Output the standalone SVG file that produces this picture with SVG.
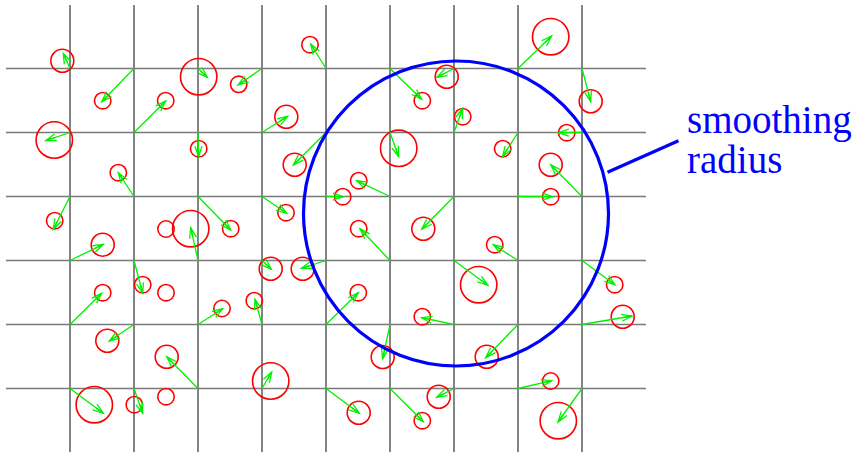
<svg xmlns="http://www.w3.org/2000/svg" width="857" height="456" viewBox="0 0 857 456">
<style>
.h{stroke:#7a7a7a;stroke-width:1.4;fill:none}
.v{stroke:#222;stroke-width:1.1;fill:none}
.c{stroke:#ff0000;stroke-width:1.6;fill:none}
.a line{stroke:#00f000;stroke-width:1.3;marker-end:url(#ah)}
.b{stroke:#0000ff;stroke-width:3.2;fill:none}
.t{font-family:"Liberation Serif","Times New Roman",serif;font-size:39px;fill:#0000ff}
</style>
<defs>
<marker id="ah" markerUnits="userSpaceOnUse" markerWidth="14" markerHeight="10" refX="11" refY="4" orient="auto" overflow="visible">
<path d="M0.5,0.5 L11,4 L0.5,7.5 M11,4 L2,4" fill="none" stroke="#00f000" stroke-width="1.3"/>
</marker>
</defs>
<rect width="857" height="456" fill="#fff"/>
<g id="grid">
<path class="v" d="M70,5V452M134,5V452M198,5V452M262,5V452M326,5V452M390,5V452M454,5V452M518,5V452M582,5V452"/>
<path class="h" d="M6,68.5H646M6,132.5H646M6,196.5H646M6,260.5H646M6,324.5H646M6,388.5H646"/>
</g>
<g id="particles">
<circle class="c" cx="62.3" cy="60.7" r="11.5"/>
<circle class="c" cx="102.7" cy="100.7" r="8.2"/>
<circle class="c" cx="198.7" cy="76.7" r="18.2"/>
<circle class="c" cx="165.7" cy="100.7" r="8.2"/>
<circle class="c" cx="54.3" cy="140" r="18.2"/>
<circle class="c" cx="198.7" cy="148.7" r="8.2"/>
<circle class="c" cx="310" cy="44.7" r="8.2"/>
<circle class="c" cx="238.7" cy="84.3" r="8.2"/>
<circle class="c" cx="286.3" cy="116.7" r="11.5"/>
<circle class="c" cx="422.3" cy="100.7" r="8.2"/>
<circle class="c" cx="398.7" cy="148.3" r="18.2"/>
<circle class="c" cx="550.7" cy="36.7" r="18.2"/>
<circle class="c" cx="446.7" cy="76.7" r="11.5"/>
<circle class="c" cx="462.7" cy="116.7" r="8.2"/>
<circle class="c" cx="590.7" cy="101.3" r="11.5"/>
<circle class="c" cx="566.7" cy="132.7" r="8.2"/>
<circle class="c" cx="502.7" cy="148.7" r="8.2"/>
<circle class="c" cx="550.7" cy="164.7" r="11.5"/>
<circle class="c" cx="118.3" cy="172.7" r="8.2"/>
<circle class="c" cx="54.7" cy="220.7" r="8.2"/>
<circle class="c" cx="102.7" cy="244.7" r="11.5"/>
<circle class="c" cx="166" cy="229" r="8.2"/>
<circle class="c" cx="190.7" cy="228.7" r="18.2"/>
<circle class="c" cx="142.7" cy="284.7" r="8.2"/>
<circle class="c" cx="166" cy="292.7" r="8.2"/>
<circle class="c" cx="102.7" cy="292.7" r="8.2"/>
<circle class="c" cx="294.7" cy="164.7" r="11.5"/>
<circle class="c" cx="286" cy="212.7" r="8.2"/>
<circle class="c" cx="230.7" cy="228.7" r="8.2"/>
<circle class="c" cx="342.7" cy="196.7" r="8.2"/>
<circle class="c" cx="358.7" cy="180.7" r="8.2"/>
<circle class="c" cx="358.7" cy="228.7" r="8.2"/>
<circle class="c" cx="423.3" cy="228.7" r="11.5"/>
<circle class="c" cx="270.7" cy="268.7" r="11.5"/>
<circle class="c" cx="302.7" cy="268.7" r="11.5"/>
<circle class="c" cx="358.3" cy="292.7" r="8.2"/>
<circle class="c" cx="254.3" cy="300.7" r="8.2"/>
<circle class="c" cx="222" cy="308.5" r="8.2"/>
<circle class="c" cx="550.7" cy="196.7" r="8.2"/>
<circle class="c" cx="494.7" cy="244.7" r="8.2"/>
<circle class="c" cx="478.7" cy="284.7" r="18.2"/>
<circle class="c" cx="614.7" cy="284.7" r="8.2"/>
<circle class="c" cx="107.3" cy="340.7" r="11.5"/>
<circle class="c" cx="166.7" cy="356.7" r="11.5"/>
<circle class="c" cx="94.3" cy="404.7" r="18.2"/>
<circle class="c" cx="134.3" cy="404.7" r="8.2"/>
<circle class="c" cx="166" cy="396.7" r="8.2"/>
<circle class="c" cx="270.7" cy="381" r="18.2"/>
<circle class="c" cx="382.7" cy="357" r="11.5"/>
<circle class="c" cx="358.7" cy="412.7" r="11.5"/>
<circle class="c" cx="422.3" cy="420.7" r="8.2"/>
<circle class="c" cx="422.3" cy="316.7" r="8.2"/>
<circle class="c" cx="622.7" cy="316.7" r="11.5"/>
<circle class="c" cx="486.7" cy="356.7" r="11.5"/>
<circle class="c" cx="550.7" cy="381" r="8.2"/>
<circle class="c" cx="438.7" cy="396.7" r="11.5"/>
<circle class="c" cx="558.3" cy="420.7" r="18.2"/>
</g>
<g id="connectors" class="a">
<line x1="70" y1="68.5" x2="63.3" y2="53.3"/>
<line x1="134" y1="68.5" x2="101.7" y2="101.7"/>
<line x1="198" y1="68.5" x2="207.3" y2="77.3"/>
<line x1="134" y1="132.5" x2="165.7" y2="101"/>
<line x1="70" y1="132.5" x2="45.7" y2="140.7"/>
<line x1="198" y1="132.5" x2="198.7" y2="156.7"/>
<line x1="326" y1="68.5" x2="310.7" y2="44"/>
<line x1="262" y1="68.5" x2="238" y2="85"/>
<line x1="262" y1="132.5" x2="287.7" y2="116.3"/>
<line x1="326" y1="132.5" x2="293.3" y2="165"/>
<line x1="390" y1="68.5" x2="421.7" y2="99.3"/>
<line x1="390" y1="132.5" x2="398.7" y2="156.7"/>
<line x1="518" y1="68.5" x2="551.7" y2="36"/>
<line x1="454" y1="68.5" x2="436.7" y2="77.3"/>
<line x1="454" y1="132.5" x2="462.7" y2="108.3"/>
<line x1="582" y1="68.5" x2="590.7" y2="101.7"/>
<line x1="582" y1="132.5" x2="558.3" y2="132.7"/>
<line x1="518" y1="132.5" x2="502.5" y2="156.7"/>
<line x1="134" y1="196.5" x2="118.3" y2="172.7"/>
<line x1="70" y1="196.5" x2="53.3" y2="229.3"/>
<line x1="70" y1="260.5" x2="103.3" y2="244.3"/>
<line x1="198" y1="260.5" x2="190.7" y2="227.7"/>
<line x1="198" y1="196.5" x2="230.7" y2="230"/>
<line x1="134" y1="260.5" x2="142.7" y2="293.3"/>
<line x1="70" y1="324.5" x2="101.7" y2="293.3"/>
<line x1="262" y1="196.5" x2="286.7" y2="213.3"/>
<line x1="326" y1="196.5" x2="343.3" y2="196.7"/>
<line x1="390" y1="196.5" x2="356.7" y2="180.7"/>
<line x1="390" y1="260.5" x2="360" y2="228.7"/>
<line x1="454" y1="196.5" x2="421.7" y2="229.3"/>
<line x1="262" y1="260.5" x2="271.3" y2="269.3"/>
<line x1="326" y1="260.5" x2="301.3" y2="268.3"/>
<line x1="326" y1="324.5" x2="358.3" y2="292.7"/>
<line x1="262" y1="324.5" x2="255" y2="299.3"/>
<line x1="198" y1="324.5" x2="222.7" y2="308.7"/>
<line x1="582" y1="196.5" x2="550.7" y2="164.7"/>
<line x1="518" y1="196.5" x2="552.7" y2="196.7"/>
<line x1="518" y1="260.5" x2="493.3" y2="244.7"/>
<line x1="454" y1="260.5" x2="488" y2="285.3"/>
<line x1="582" y1="260.5" x2="615" y2="284.7"/>
<line x1="134" y1="324.5" x2="109.3" y2="341"/>
<line x1="198" y1="388.5" x2="166.7" y2="356.7"/>
<line x1="70" y1="388.5" x2="103.3" y2="413.3"/>
<line x1="134" y1="388.5" x2="142.7" y2="413.3"/>
<line x1="262" y1="388.5" x2="271.7" y2="372"/>
<line x1="390" y1="324.5" x2="382.7" y2="358.7"/>
<line x1="326" y1="388.5" x2="359.3" y2="413.3"/>
<line x1="390" y1="388.5" x2="423.3" y2="421.7"/>
<line x1="454" y1="324.5" x2="421.7" y2="317.7"/>
<line x1="582" y1="324.5" x2="632" y2="316"/>
<line x1="518" y1="324.5" x2="485.7" y2="357.7"/>
<line x1="518" y1="388.5" x2="551.7" y2="380.7"/>
<line x1="454" y1="388.5" x2="436.7" y2="397.3"/>
<line x1="582" y1="388.5" x2="558" y2="422"/>
</g>
<g id="smoothing-radius">
<circle class="b" cx="456" cy="213.5" r="152.5"/>
<line class="b" x1="607.5" y1="172.3" x2="678.5" y2="140.7"/>
<text class="t" x="687" y="133.3">smoothing</text>
<text class="t" x="687" y="172.5">radius</text>
</g>
</svg>
